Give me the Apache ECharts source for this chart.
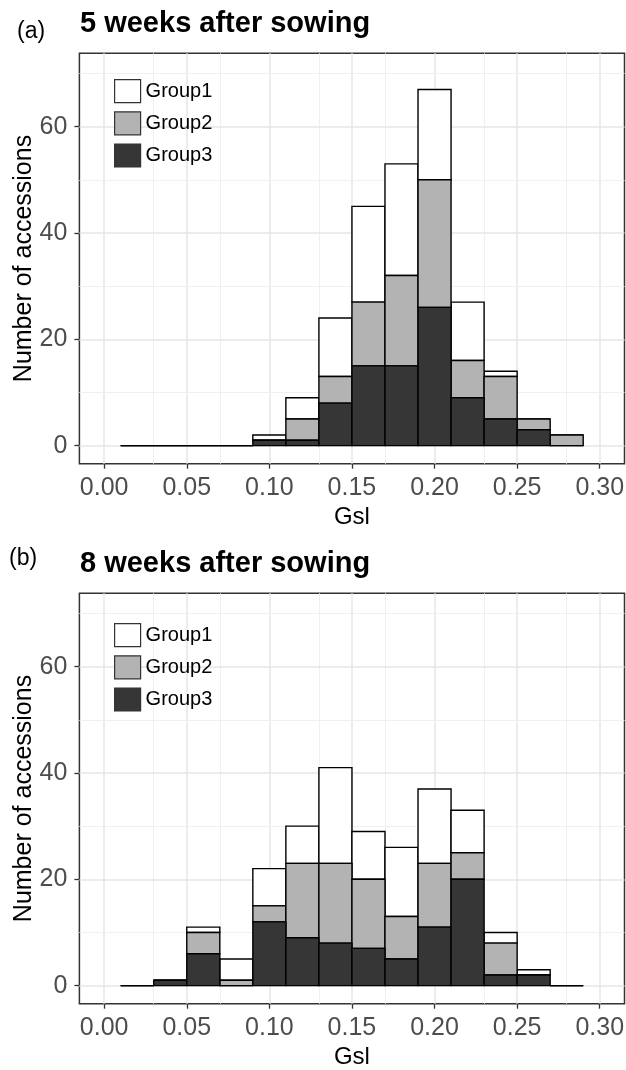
<!DOCTYPE html>
<html>
<head>
<meta charset="utf-8">
<script src="https://cdn.jsdelivr.net/npm/echarts@6/dist/echarts.min.js"></script>
<style>
  html, body { margin: 0; padding: 0; background: #fff; }
  #chart { width: 626px; height: 1070px; }
</style>
</head>
<body>
<div id="chart"></div>
<script>
// bin centres of the Gsl histogram (bin width 0.02)
var binCenters = [0.02, 0.04, 0.06, 0.08, 0.10, 0.12, 0.14, 0.16, 0.18, 0.20, 0.22, 0.24, 0.26, 0.28];
var binWidth = 0.02;

// (a) 5 weeks after sowing
var group1A = [0, 0, 0, 0, 1, 4, 11, 18, 21, 17, 11, 1, 0, 0];
var group2A = [0, 0, 0, 0, 0, 4, 5, 12, 17, 24, 7, 8, 2, 2];
var group3A = [0, 0, 0, 0, 1, 1, 8, 15, 15, 26, 9, 5, 3, 0];

// (b) 8 weeks after sowing
var group1B = [0, 0, 1, 4, 7, 7, 18, 9, 13, 14, 8, 2, 1, 0];
var group2B = [0, 0, 4, 1, 3, 14, 15, 13, 8, 12, 5, 6, 0, 0];
var group3B = [0, 1, 6, 0, 12, 9, 8, 7, 5, 11, 20, 2, 2, 0];

var xTicks = [0, 0.05, 0.10, 0.15, 0.20, 0.25, 0.30];
var xGrid = [0, 0.025, 0.05, 0.075, 0.10, 0.125, 0.15, 0.175, 0.20, 0.225, 0.25, 0.275, 0.30];
var yTicks = [0, 20, 40, 60];
var yGrid = [0, 10, 20, 30, 40, 50, 60, 70];

var groupNames = ["Group1", "Group2", "Group3"];
var groupColors = ["#ffffff", "#b3b3b3", "#363636"];

var chart = echarts.init(document.getElementById("chart"));
var FONT = "Liberation Sans, Arial, sans-serif";

// stacked segments [centre, bottom, top], group3 at the bottom
function stackData(g1, g2, g3) {
  var out = [[], [], []];
  binCenters.forEach(function (c, i) {
    var b3 = g3[i];
    var b2 = b3 + g2[i];
    var b1 = b2 + g1[i];
    out[2].push([c, 0, b3]);
    out[1].push([c, b3, b2]);
    out[0].push([c, b2, b1]);
  });
  return out;
}

function makeRender(fill) {
  return function (params, api) {
    var c = api.value(0);
    var p0 = api.coord([c - binWidth / 2, api.value(2)]);
    var p1 = api.coord([c + binWidth / 2, api.value(1)]);
    if (api.value(2) === api.value(1)) {
      return {
        type: "line",
        shape: { x1: p0[0], y1: p1[1], x2: p1[0], y2: p1[1] },
        style: { stroke: "#000", lineWidth: 1.4 },
      };
    }
    return {
      type: "rect",
      shape: { x: p0[0], y: p0[1], width: p1[0] - p0[0], height: p1[1] - p0[1] },
      style: { fill: fill, stroke: "#000", lineWidth: 1.4 },
    };
  };
}

function gridLines(idx) {
  var lines = [];
  xGrid.forEach(function (v, i) {
    lines.push({ xAxis: v, lineStyle: { color: i % 2 ? "#f0f0f0" : "#e6e6e6", width: i % 2 ? 1 : 1.5, type: "solid" } });
  });
  yGrid.forEach(function (v, i) {
    lines.push({ yAxis: v, lineStyle: { color: i % 2 ? "#f0f0f0" : "#e6e6e6", width: i % 2 ? 1 : 1.5, type: "solid" } });
  });
  return {
    type: "line",
    xAxisIndex: idx,
    yAxisIndex: idx,
    data: [],
    z: 1,
    silent: true,
    markLine: {
      z: 1,
      silent: true,
      symbol: ["none", "none"],
      label: { show: false },
      animation: false,
      data: lines,
    },
  };
}

var stacks = [stackData(group1A, group2A, group3A), stackData(group1B, group2B, group3B)];
var series = [gridLines(0), gridLines(1)];
stacks.forEach(function (st, idx) {
  st.forEach(function (d, g) {
    series.push({
      type: "custom",
      name: groupNames[g],
      xAxisIndex: idx,
      yAxisIndex: idx,
      z: 3,
      renderItem: makeRender(groupColors[g]),
      encode: { x: 0, y: [1, 2] },
      data: d,
    });
  });
});

var tops = [53.3, 593.3];

function xAxisFor(idx) {
  return {
    type: "value",
    gridIndex: idx,
    min: -0.015,
    max: 0.315,
    name: "Gsl",
    nameLocation: "middle",
    nameGap: 42,
    nameMoveOverlap: false,
    nameTextStyle: { fontFamily: FONT, fontSize: 24, color: "#000" },
    axisLine: { show: false, onZero: false },
    axisTick: { show: true, length: 5, customValues: xTicks, lineStyle: { color: "#333", width: 1.3 } },
    axisLabel: {
      customValues: xTicks,
      margin: 12,
      fontFamily: FONT,
      fontSize: 25,
      color: "#4d4d4d",
      formatter: function (v) { return v.toFixed(2); },
    },
    splitLine: { show: false },
  };
}

function yAxisFor(idx) {
  return {
    type: "value",
    gridIndex: idx,
    min: -3.4,
    max: 73.8,
    name: "Number of accessions",
    nameLocation: "middle",
    nameGap: 43,
    nameMoveOverlap: false,
    nameTextStyle: { fontFamily: FONT, fontSize: 25, color: "#000" },
    axisLine: { show: false, onZero: false },
    axisTick: { show: true, length: 5, customValues: yTicks, lineStyle: { color: "#333", width: 1.3 } },
    axisLabel: { customValues: yTicks, margin: 12, fontFamily: FONT, fontSize: 25, color: "#4d4d4d" },
    splitLine: { show: false },
  };
}

function legendFor(idx, top) {
  return {
    left: 109,
    top: top,
    orient: "vertical",
    itemWidth: 26,
    itemHeight: 23,
    itemGap: 8,
    icon: "rect",
    selectedMode: false,
    textStyle: { fontFamily: FONT, fontSize: 20, color: "#000" },
    data: groupNames.map(function (n, g) {
      return { name: n, itemStyle: { color: groupColors[g], borderColor: "#333", borderWidth: 1.2 } };
    }),
  };
}

chart.setOption({
  animation: false,
  backgroundColor: "#fff",
  title: [
    { text: "(a)", left: 17, top: 20, padding: 0, textStyle: { fontFamily: FONT, fontSize: 23, fontWeight: "normal", color: "#000" } },
    { text: "5 weeks after sowing", left: 80, top: 9, padding: 0, textStyle: { fontFamily: FONT, fontSize: 29, fontWeight: "bold", color: "#000" } },
    { text: "(b)", left: 9, top: 547, padding: 0, textStyle: { fontFamily: FONT, fontSize: 23, fontWeight: "normal", color: "#000" } },
    { text: "8 weeks after sowing", left: 80, top: 549, padding: 0, textStyle: { fontFamily: FONT, fontSize: 29, fontWeight: "bold", color: "#000" } },
  ],
  legend: [legendFor(0, 74), legendFor(1, 618)],
  grid: tops.map(function (t) {
    return {
      left: 79.4,
      right: 1.5,
      top: t,
      height: 410.4,
      outerBoundsMode: "none",
      containLabel: false,
      show: true,
      backgroundColor: "#fff",
      borderColor: "#333",
      borderWidth: 1.5,
    };
  }),
  xAxis: [xAxisFor(0), xAxisFor(1)],
  yAxis: [yAxisFor(0), yAxisFor(1)],
  series: series,
});
</script>
</body>
</html>
